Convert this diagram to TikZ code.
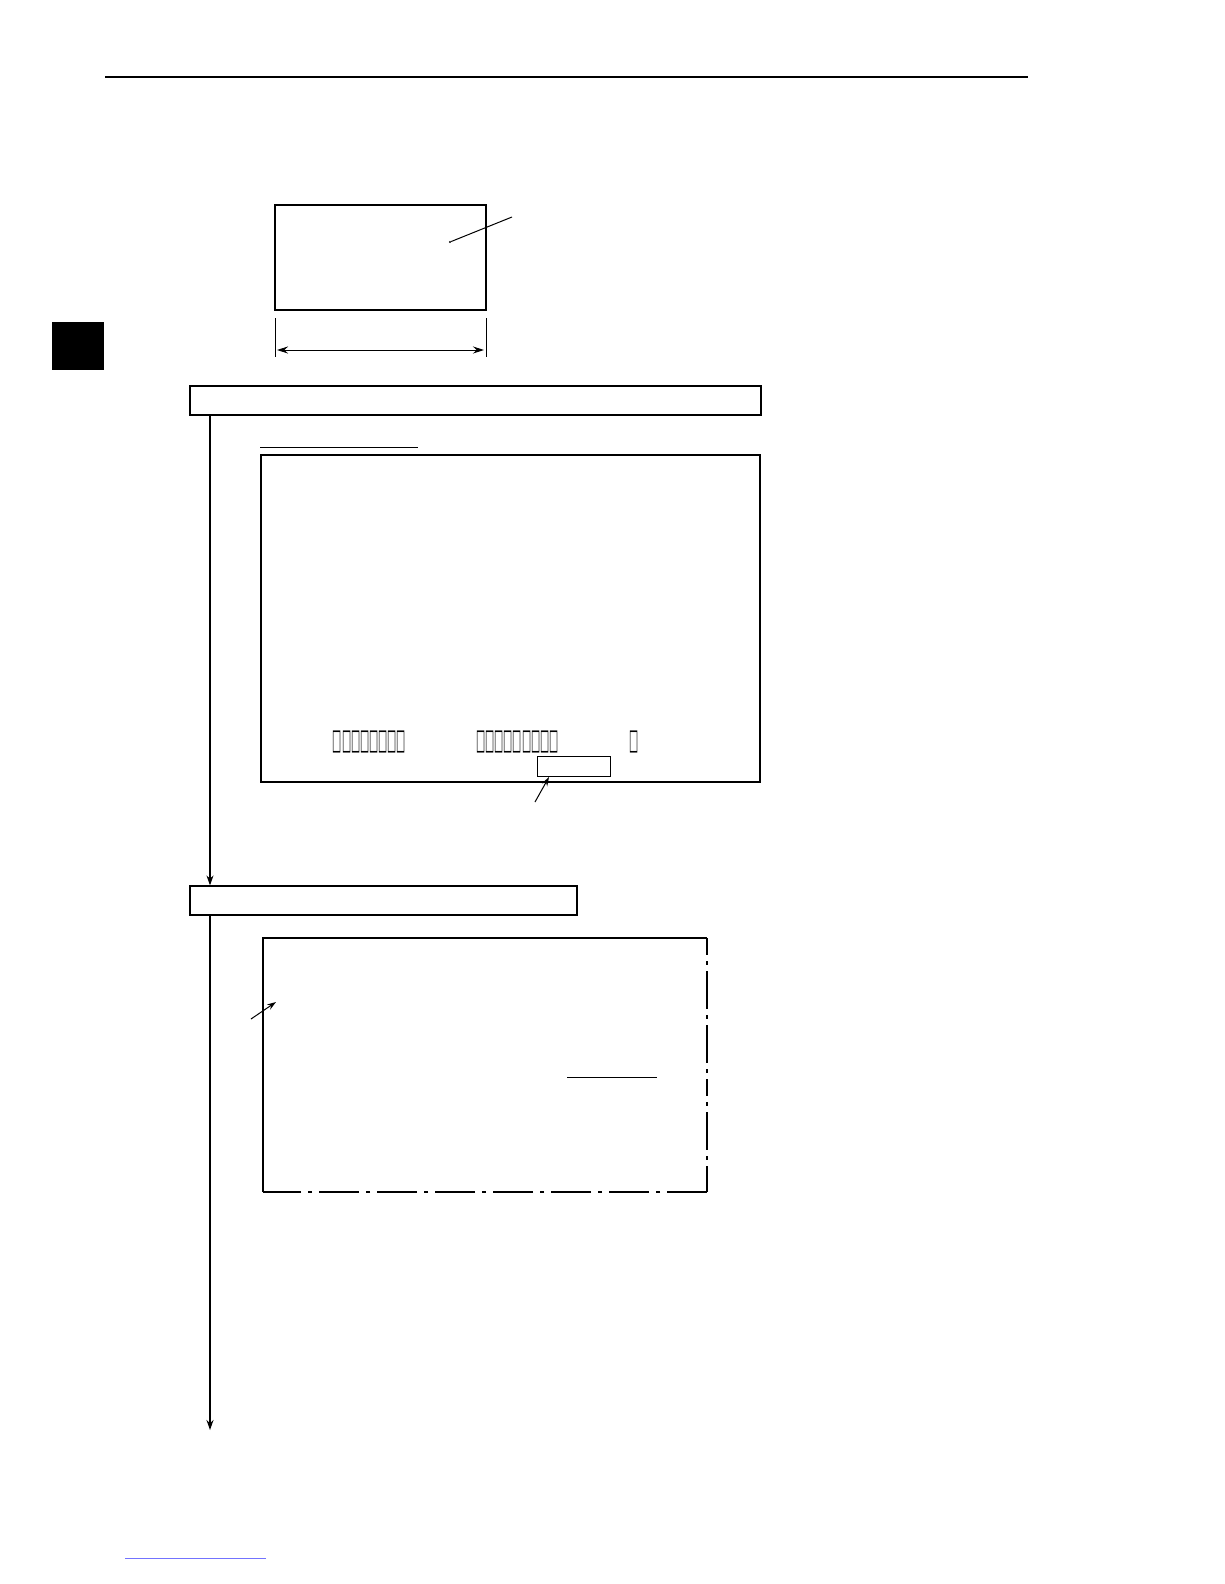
\documentclass[tikz,border=0pt]{standalone}
\usepackage{fontspec}
\newfontfamily\boxfont{DejaVu Sans}
\usetikzlibrary{arrows.meta}

\begin{document}
\begin{tikzpicture}[x=1pt,y=-1pt,
    stepbox/.style={draw,line width=1.2pt,minimum height=29pt,inner sep=0pt},
    screen/.style={draw,line width=2pt,inner sep=0pt},
    glyphs/.style={font=\boxfont\fontsize{17}{17}\selectfont,inner sep=0pt},
    flow/.style={line width=1.3pt,-{Stealth[length=10pt,width=7pt]}},
    pointer/.style={line width=1pt,-{Stealth[length=9pt,width=6pt]}}]
        \useasboundingbox (0,0) rectangle (1224,1584);

        % page furniture
        \draw[line width=1.3pt] (105,77) -- (1028,77);
        \fill (52,322) rectangle (104,370);
        \draw[blue!55,line width=0.8pt] (125,1558) -- (266,1558);

        % part with its width
        \node[draw,line width=2.5pt,minimum width=211pt,minimum height=105pt,inner sep=0pt] (part) at (380.5,257.5) {};
        \node[circle,fill,inner sep=0.8pt] (mark) at (450,242) {};
        \coordinate (markend) at (512,217);
        \draw[line width=1pt] (mark) -- (markend);
        \draw[line width=0.8pt] (275,318) -- (275,357);
        \draw[line width=0.8pt] (486,318) -- (486,357);
        \coordinate (dimleft) at (277,350);
        \coordinate (dimright) at (484,350);
        \draw[line width=1pt,{Stealth[length=11pt,width=7pt]}-{Stealth[length=11pt,width=7pt]}] (dimleft) -- (dimright);

        % first step
        \node[stepbox,minimum width=571pt] (step1) at (475.5,400.5) {};
        \draw[line width=1pt] (260,447) -- (418,447);
        \node[screen,minimum width=499pt,minimum height=327pt] (screen1) at (510.5,618.5) {};
        \node[glyphs] (text1) at (369.5,742) {\scalebox{0.57}[1.7]{□□□□□□□□}};
        \node[glyphs] (text2) at (517.5,742) {\scalebox{0.57}[1.7]{□□□□□□□□□}};
        \node[glyphs] (text3) at (634,742) {\scalebox{0.57}[1.7]{□}};
        \node[draw,line width=1pt,minimum width=73pt,minimum height=20pt,inner sep=0pt] (field) at (573.5,766) {};
        \coordinate (fieldtail) at (535,802);
        \draw[pointer] (fieldtail) -- (549,777);

        % second step
        \node[stepbox,minimum width=387pt] (step2) at (383.5,900.5) {};
        \coordinate (flow1) at (210,415);
        \draw[flow] (flow1) -- (flow1 |- step2.north);

        \coordinate (nw) at (263,938);
        \coordinate (ne) at (707,938);
        \coordinate (se) at (707,1192);
        \coordinate (sw) at (263,1192);
        \draw[line width=1.5pt] (sw) -- (nw) -- (ne);
        \draw[line width=1.5pt,dash pattern=on 17pt off 6pt on 4pt off 6pt on 38pt off 6pt on 4pt off 6pt on 38pt off 6pt on 4pt off 6pt] (ne) -- (se);
        \draw[line width=1.5pt,dash pattern=on 40pt off 7pt on 4pt off 7pt] (se) -- (sw);
        \coordinate (cornertail) at (251,1019);
        \draw[pointer] (cornertail) -- (276,1002);
        \draw[line width=1pt] (567,1077) -- (657,1077);

        \coordinate (flow2) at (210,915);
        \coordinate (flowend) at (210,1430);
        \draw[flow] (flow2) -- (flowend);
      \end{tikzpicture}
\end{document}
